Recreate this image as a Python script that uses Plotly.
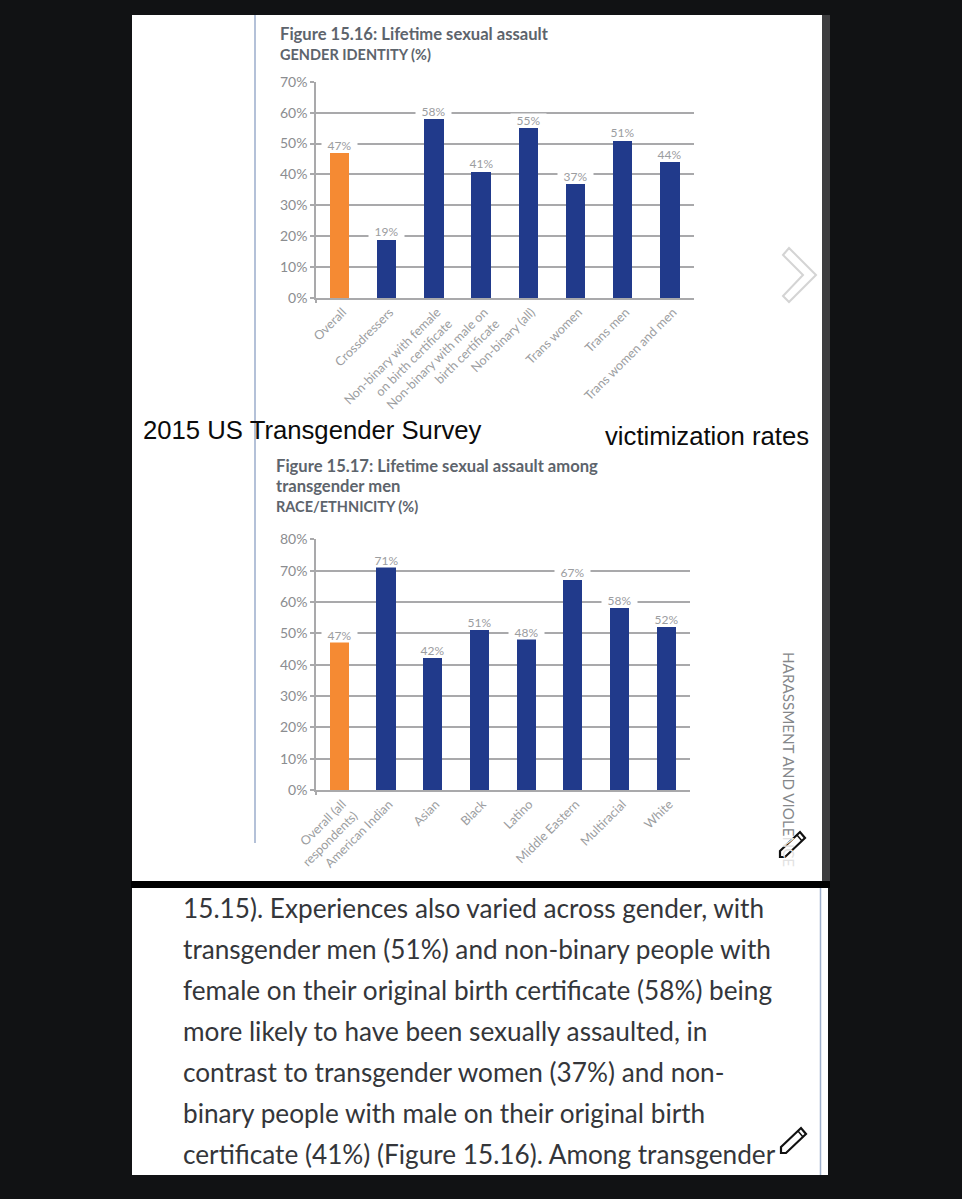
import plotly.graph_objects as go

W, H = 962, 1199

# ---- data ----
gender_categories = ["Overall", "Crossdressers", "Non-binary with female<br>on birth certificate",
                     "Non-binary with male on<br>birth certificate", "Non-binary (all)",
                     "Trans women", "Trans men", "Trans women and men"]
gender_values = [47, 19, 58, 41, 55, 37, 51, 44]
gender_ticks = [0, 10, 20, 30, 40, 50, 60, 70]

race_categories = ["Overall (all<br>respondents)", "American Indian", "Asian", "Black", "Latino",
                   "Middle Eastern", "Multiracial", "White"]
race_values = [47, 71, 42, 51, 48, 67, 58, 52]
race_ticks = [0, 10, 20, 30, 40, 50, 60, 70, 80]

body_lines = ["15.15). Experiences also varied across gender, with",
              "transgender men (51%) and non-binary people with",
              "female on their original birth certificate (58%) being",
              "more likely to have been sexually assaulted, in",
              "contrast to transgender women (37%) and non-",
              "binary people with male on their original birth",
              "certificate (41%) (Figure 15.16). Among transgender"]

# ---- style ----
ORANGE, BLUE = "#f58a33", "#213a8b"
GRID, TICKTXT, LABELTXT, TITLETXT = "#a9a9ab", "#8b8d90", "#9b9da0", "#5d646c"
FONT = "Lato"


def px(x):
    return x / W


def py(y):
    return 1 - y / H


def rect(x0, y0, x1, y1, fill):
    return dict(type="rect", xref="paper", yref="paper", x0=px(x0), x1=px(x1), y0=py(y0), y1=py(y1),
                fillcolor=fill, line_width=0, layer="below")


def vline(x, y0, y1, color, width=1.5):
    return dict(type="line", xref="paper", yref="paper", x0=px(x), x1=px(x), y0=py(y0), y1=py(y1),
                line=dict(color=color, width=width), layer="below")


def poly(points, fill, color, width):
    d = "M " + " L ".join(f"{px(a):.5f},{py(b):.5f}" for a, b in points) + " Z"
    return dict(type="path", xref="paper", yref="paper", path=d, fillcolor=fill,
                line=dict(color=color, width=width), layer="above")


def pencil(x, y):
    return [poly([(x, y - 6), (x + 20, y - 25), (x + 25, y - 19), (x + 5, y), (x, y)], "white", "#111", 2.2),
            poly([(x + 17, y - 22), (x + 22, y - 16)], "white", "#111", 1.5)]


def text(x, y, s, size, color, bold=False, family=FONT, anchor="left", angle=0):
    return dict(xref="paper", yref="paper", x=px(x), y=py(y), text=f"<b>{s}</b>" if bold else s,
                showarrow=False, xanchor=anchor, yanchor="middle", align="left", textangle=angle,
                font=dict(family=family, size=size, color=color))


fig = go.Figure()
charts = [("x", "y", gender_categories, gender_values, gender_ticks, (316, 693.5), (298, 81.7)),
          ("x2", "y2", race_categories, race_values, race_ticks, (316, 689.5), (790, 539.3))]

annotations = []
for xa, ya, cats, vals, ticks, xd, yd in charts:
    fig.add_trace(go.Bar(x=list(range(len(cats))), y=vals, xaxis=xa, yaxis=ya, width=0.41,
                         marker=dict(color=[ORANGE] + [BLUE] * (len(cats) - 1), line_width=0),
                         hoverinfo="skip", showlegend=False))
    for i, v in enumerate(vals):
        annotations.append(dict(xref=xa, yref=ya, x=i, y=v, text=f"{v}%", showarrow=False, yanchor="bottom",
                                width=35, height=13, borderpad=0, bgcolor="white",
                                font=dict(family=FONT, size=12, color=LABELTXT)))
    suffix = "" if xa == "x" else "2"
    fig.layout["xaxis" + suffix] = dict(
        domain=[px(xd[0]), px(xd[1])], range=[-0.5, len(cats) - 0.5], anchor=ya,
        tickmode="array", tickvals=list(range(len(cats))), ticktext=cats, tickangle=-45,
        ticks="", showgrid=False, zeroline=False, showline=True, linecolor=GRID, linewidth=2,
        automargin=False, ticklabelshift=3,
        tickfont=dict(family=FONT, size=12.6, color=LABELTXT), fixedrange=True)
    fig.layout["yaxis" + suffix] = dict(
        domain=[py(yd[0]), py(yd[1])], range=[ticks[0], ticks[-1]], anchor=xa,
        tickmode="array", tickvals=ticks, ticktext=[f"{t}%" for t in ticks],
        ticks="outside", ticklen=4, tickcolor=GRID, tickwidth=2,
        showgrid=True, gridcolor=GRID, gridwidth=2, zeroline=False,
        showline=True, linecolor=GRID, linewidth=1.5, automargin=False,
        tickfont=dict(family=FONT, size=14, color=TICKTXT), fixedrange=True)

annotations += [
    text(278, 34, "Figure 15.16: Lifetime sexual assault", 16.6, TITLETXT, True),
    text(278, 55, "GENDER IDENTITY (%)", 14.5, TITLETXT, True),
    text(274, 466, "Figure 15.17: Lifetime sexual assault among", 16.6, TITLETXT, True),
    text(274, 486, "transgender men", 16.6, TITLETXT, True),
    text(274, 506, "RACE/ETHNICITY (%)", 14.5, TITLETXT, True),
    text(141, 430, "2015 US Transgender Survey", 25.7, "#0b0b0b", family="Liberation Sans"),
    text(603, 436, "victimization rates", 25.7, "#0b0b0b", family="Liberation Sans"),
    text(789, 759, 'HARASSMENT AND VIOLE<span style="color:#e2e2e2">NCE</span>', 15.2, "#85878a",
         anchor="center", angle=90),
]
for i, line in enumerate(body_lines):
    annotations.append(text(181, 908 + i * 41, line, 26.2, "#34363a"))

shapes = [
    rect(132, 15, 822, 881, "white"),
    rect(822, 15, 830, 881, "#3d3d3f"),
    rect(131, 881, 830, 888, "#000000"),
    rect(132, 888, 828, 1175, "white"),
    vline(255, 15, 843, "#b4c1d8", 2),
    vline(820.5, 888, 1175, "#9fb0cc", 1.5),
    vline(316, 298, 303, GRID, 2),
    vline(316, 790, 795, GRID, 2),
    poly([(783, 255), (789, 248), (816, 275), (789, 302), (783, 296), (803, 275)], "white", "#d4d4d4", 2),
] + pencil(780, 857) + pencil(781, 1153)

fig.update_layout(width=W, height=H, margin=dict(l=0, r=0, t=0, b=0), autosize=False,
                  paper_bgcolor="#111214", plot_bgcolor="white", bargap=0,
                  shapes=shapes, annotations=annotations, showlegend=False)

fig.write_html("out.html", post_script="document.body.style.margin='0';",
               config=dict(displayModeBar=False))
